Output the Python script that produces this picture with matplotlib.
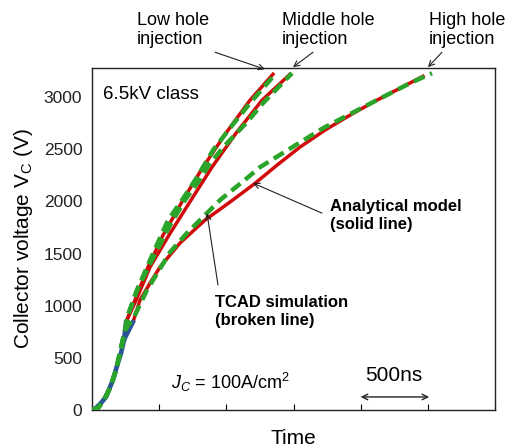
import numpy as np
import matplotlib
matplotlib.use("Agg")
import matplotlib.pyplot as plt

plt.rcParams['font.family'] = ['Liberation Sans', 'DejaVu Sans']
plt.rcParams['mathtext.fontset'] = 'custom'
plt.rcParams['mathtext.rm'] = 'Liberation Sans'
plt.rcParams['mathtext.it'] = 'Liberation Sans:italic'

# analytical model, common low-voltage part (blue), time in ns, voltage in V
an_common_t = [0, 30, 67, 104, 156, 186, 216, 238]
an_common_v = [0, 19, 67, 125, 288, 422, 546, 671]
# short blue tails before the curves turn red
an_lowmid_blue_t = [238, 253]
an_lowmid_blue_v = [671, 843]
an_high_blue_t = [238, 305]
an_high_blue_v = [671, 843]

# analytical model, red branches
an_low_t = [253, 320, 417, 529, 677, 826, 997, 1176, 1347]
an_low_v = [843, 1054, 1371, 1677, 2013, 2329, 2655, 2971, 3220]
an_mid_t = [253, 328, 432, 573, 737, 893, 1072, 1266, 1474]
an_mid_v = [843, 1054, 1371, 1677, 2013, 2329, 2655, 2971, 3220]
an_high_t = [305, 357, 432, 506, 655, 841, 1027, 1206, 1377, 1548, 1734, 1921, 2107, 2293, 2464]
an_high_v = [843, 1054, 1217, 1371, 1601, 1821, 1994, 2166, 2348, 2521, 2684, 2828, 2962, 3086, 3201]

# TCAD simulation (broken lines)
tc_common_t = [0, 45, 89, 134, 179, 216, 246]
tc_common_v = [0, 19, 96, 211, 383, 594, 767]
tc_low_t = [246, 268, 335, 432, 566, 670, 782, 901, 1027, 1176, 1370]
tc_low_v = [767, 911, 1150, 1438, 1821, 2013, 2233, 2492, 2703, 2943, 3230]
tc_mid_t = [246, 268, 335, 447, 581, 692, 789, 878, 1005, 1154, 1273, 1489]
tc_mid_v = [767, 911, 1150, 1438, 1773, 2013, 2185, 2367, 2559, 2760, 2943, 3230]
tc_high_t = [246, 320, 409, 491, 581, 707, 841, 953, 1154, 1251, 1720, 2047, 2367, 2531]
tc_high_v = [767, 911, 1150, 1323, 1514, 1697, 1869, 2013, 2224, 2329, 2703, 2923, 3134, 3230]

RED = '#d00a0a'
BLUE = '#2b5895'
GREEN = '#2aa52a'

fig = plt.figure(figsize=(5.16, 4.48), dpi=100)
ax = fig.add_axes([92 / 516, 1 - 410 / 448, 403 / 516, 342 / 448])

for t, v in [(an_low_t, an_low_v), (an_mid_t, an_mid_v), (an_high_t, an_high_v)]:
    ax.plot(t, v, color=RED, lw=2.5, zorder=2)
for t, v in [(an_lowmid_blue_t, an_lowmid_blue_v), (an_high_blue_t, an_high_blue_v)]:
    ax.plot(t, v, color=BLUE, lw=3.2, zorder=2)
ax.plot(an_common_t, an_common_v, color=BLUE, lw=3.4, zorder=2)

for t, v in [(tc_low_t, tc_low_v), (tc_mid_t, tc_mid_v), (tc_high_t, tc_high_v)]:
    ax.plot(tc_common_t + t[1:], tc_common_v + v[1:], color=GREEN, lw=3.2,
            dashes=(2.6, 1.4), zorder=3)

ax.set_xlim(0, 3000)
ax.set_ylim(0, 3280)
ax.set_xticks(np.arange(0, 3001, 500))
ax.set_xticklabels([])
ax.set_yticks(np.arange(0, 3001, 500))
ax.tick_params(axis='x', direction='in', length=4, width=0.8)
ax.tick_params(axis='y', length=0, pad=7, labelsize=12.5, colors='#222222')
for s in ax.spines.values():
    s.set_linewidth(1.0)
    s.set_color('#222222')

ax.set_ylabel(r'Collector voltage $\mathregular{V_C}$ (V)', fontsize=15, labelpad=6)
ax.set_xlabel('Time', fontsize=15, labelpad=10)

arrow = dict(arrowstyle='->', color='#222222', lw=0.8, shrinkA=0, shrinkB=0)

# injection labels above the frame
ax.text(335, 3642, 'Low hole\ninjection', fontsize=13, va='center', ha='left',
        linespacing=1.15, clip_on=False)
ax.text(1414, 3642, 'Middle hole\ninjection', fontsize=13, va='center', ha='left',
        linespacing=1.15, clip_on=False)
ax.text(2509, 3642, 'High hole\ninjection', fontsize=13, va='center', ha='left',
        linespacing=1.15, clip_on=False)
ax.annotate('', xy=(1288, 3268), xytext=(916, 3431), arrowprops=arrow, annotation_clip=False)
ax.annotate('', xy=(1496, 3288), xytext=(1645, 3431), arrowprops=arrow, annotation_clip=False)
ax.annotate('', xy=(2501, 3288), xytext=(2605, 3431), arrowprops=arrow, annotation_clip=False)

ax.text(82, 3029, '6.5kV class', fontsize=13.5, va='center', ha='left')

ax.text(1772, 1869, 'Analytical model\n(solid line)', fontsize=12, fontweight='bold',
        va='center', ha='left', linespacing=1.25)
ax.annotate('', xy=(1199, 2176), xytext=(1712, 1888), arrowprops=arrow)

ax.text(916, 949, 'TCAD simulation\n(broken line)', fontsize=12, fontweight='bold',
        va='center', ha='left', linespacing=1.25)
ax.annotate('', xy=(856, 1888), xytext=(938, 1198), arrowprops=arrow)

ax.text(590, 268, r'$J_C$ = 100A/cm$^2$', fontsize=13, va='center', ha='left')

ax.text(2250, 335, '500ns', fontsize=15, va='center', ha='center')
ax.annotate('', xy=(2000, 125), xytext=(2510, 125),
            arrowprops=dict(arrowstyle='<->', color='#222222', lw=1.0,
                            shrinkA=0, shrinkB=0))

fig.savefig('out.png', dpi=100)
